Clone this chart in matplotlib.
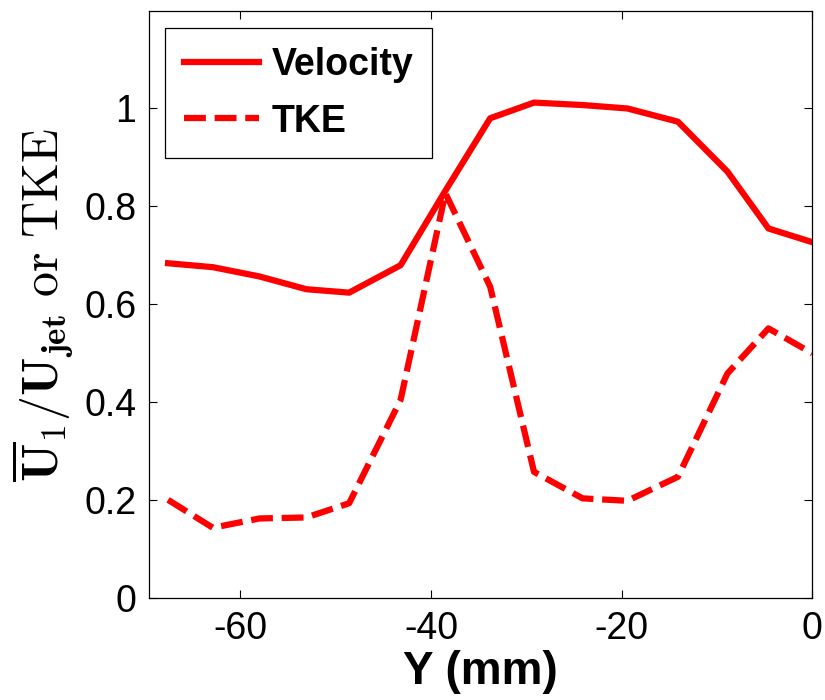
import matplotlib
matplotlib.use('Agg')
import matplotlib.pyplot as plt

# data
y_mm = [-67.6, -62.9, -58.0, -53.1, -48.6, -43.2, -38.5, -33.8, -29.2, -24.1, -19.4, -14.1, -8.9, -4.6, 0.0]
velocity = [0.684, 0.676, 0.657, 0.631, 0.624, 0.680, 0.832, 0.980, 1.012, 1.007, 1.000, 0.973, 0.871, 0.755, 0.727]
tke = [0.201, 0.144, 0.163, 0.165, 0.194, 0.405, 0.827, 0.636, 0.258, 0.204, 0.199, 0.248, 0.459, 0.551, 0.500]

x_ticks = [-60, -40, -20, 0]
y_ticks = [0, 0.2, 0.4, 0.6, 0.8, 1.0]
y_tick_labels = ['0', '0.2', '0.4', '0.6', '0.8', '1']

plt.rcParams['font.family'] = ['Liberation Sans', 'DejaVu Sans']
plt.rcParams['mathtext.fontset'] = 'cm'

fig = plt.figure(figsize=(8.25, 7), dpi=100)
ax = fig.add_axes([0.1806, 0.1453, 0.804, 0.8397])

ax.plot(y_mm, velocity, color='red', lw=4.5, label='Velocity')
ax.plot(y_mm, tke, color='red', lw=4.5, linestyle=(0, (3.5, 1.4)), label='TKE')

ax.set_xlim(-69.6, 0)
ax.set_ylim(0, 1.2)
ax.set_xticks(x_ticks)
ax.set_xticklabels([str(t) for t in x_ticks])
ax.set_yticks(y_ticks)
ax.set_yticklabels(y_tick_labels)
ax.tick_params(direction='in', length=6, width=0.8, labelsize=27, pad=9,
               top=True, right=True)
for s in ax.spines.values():
	s.set_linewidth(0.9)

ax.set_xlabel('Y (mm)', fontsize=33, fontweight='bold', labelpad=2)
ax.set_ylabel(r'$\overline{\mathbf{U}}_1/\mathbf{U}_{\mathbf{jet}}\ \mathrm{or}\ \mathrm{TKE}$',
              fontsize=36, labelpad=6)

leg = ax.legend(loc='upper left', bbox_to_anchor=(0.024, 0.97),
                prop={'weight': 'bold', 'size': 27}, handlelength=2.0,
                handletextpad=0.35, borderpad=0.5, labelspacing=0.55,
                borderaxespad=0, fancybox=False, framealpha=1)
leg.get_frame().set_edgecolor('black')
leg.get_frame().set_linewidth(0.9)

plt.savefig('out.png')
plt.close(fig)
